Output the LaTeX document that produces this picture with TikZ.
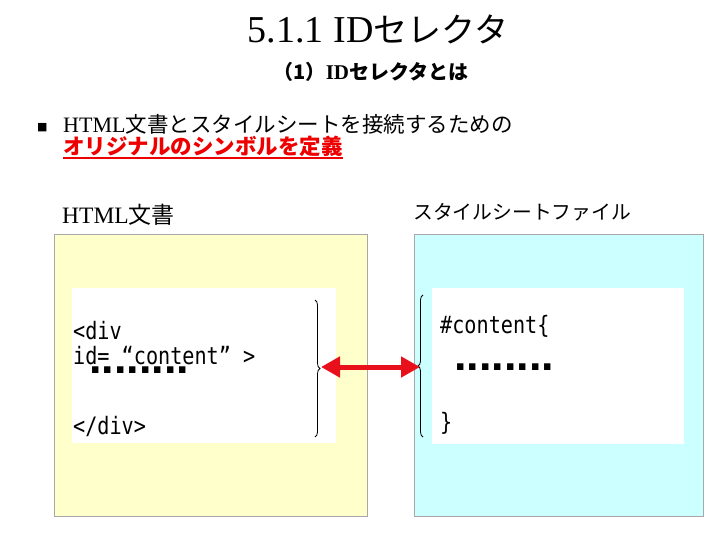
\documentclass[tikz,border=0pt]{standalone}
\usepackage{fontspec}
\setmainfont{Liberation Serif}
\newfontfamily\jp{Noto Sans CJK JP}
\newfontfamily\codefont[FakeStretch=0.84]{DejaVu Sans Mono}
\newfontfamily\dotfont{Liberation Sans}
\newfontfamily\symfont{DejaVu Sans}
\usetikzlibrary{arrows.meta,decorations.pathreplacing}
\definecolor{paleyellow}{HTML}{FFFFCC}
\definecolor{palecyan}{HTML}{CCFFFF}
\definecolor{boxedge}{HTML}{A8A8A8}
\definecolor{arrowred}{HTML}{E8101A}
\definecolor{textred}{HTML}{EE0000}
\begin{document}
\begin{tikzpicture}[x=1pt,y=-1pt,
  panel/.style={draw=boxedge,line width=1pt},
  inner/.style={fill=white,draw=none},
  lbl/.style={inner sep=0pt,anchor=base west},
  code/.style={lbl,font=\codefont\fontsize{24}{28}\selectfont},
  dotrow/.style={lbl,font=\dotfont\bfseries\fontsize{45}{48}\selectfont},
  bracket/.style={decorate,decoration={brace,amplitude=5pt},line width=0.8pt},
  link/.style={draw=arrowred,line width=5pt,{Triangle[length=19pt,width=20pt]}-{Triangle[length=19pt,width=20pt]}}
]
\useasboundingbox (0,0) rectangle (720,540);
\fill[white] (0,0) rectangle (720,540);

% titles
\node[inner sep=0pt,anchor=base] (title) at (378,43)
  {{\fontsize{38}{42}\selectfont 5.1.1 ID}{\jp\fontsize{34}{40}\selectfont セレクタ}};
\node[inner sep=0pt,anchor=base] (subtitle) at (371,80)
  {{\jp\bfseries\fontsize{20}{22}\selectfont （1）}{\bfseries\fontsize{21}{22}\selectfont ID}{\jp\bfseries\fontsize{20}{22}\selectfont セレクタとは}};

% bullet
\node[lbl] (bullet) at (37,131) {\symfont\fontsize{11}{12}\selectfont ■};
\node[lbl] (line1) at (63,133)
  {{\fontsize{22}{24}\selectfont HTML}{\jp\fontsize{21.5}{24}\selectfont 文書とスタイルシートを接続するための}};
\node[lbl,text=textred] (line2) at (63,155)
  {\jp\bfseries\fontsize{21.5}{24}\selectfont オリジナルのシンボルを定義};
\draw[textred,line width=1.6pt] ([yshift=-3pt]line2.base west) -- ([yshift=-3pt]line2.base east);

% panel labels
\node[lbl] (htmllbl) at (62,224)
  {{\fontsize{23.5}{26}\selectfont HTML}{\jp\fontsize{23}{26}\selectfont 文書}};
\node[lbl] (csslbl) at (413,219)
  {\jp\fontsize{19.8}{24}\selectfont スタイルシートファイル};

% panels
\draw[panel,fill=paleyellow] (54,234) rectangle (367,516);
\draw[panel,fill=palecyan] (414,234) rectangle (703,516);
\fill[inner] (72,288) rectangle (336,443);
\fill[inner] (432,288) rectangle (684,444);

% html code
\node[code] (divopen) at (73,339) {<div};
\node[code] (divid) at (73,364) {id= “content” >};
\node[dotrow] (ldots) at (89,373) {........};
\node[code] (divclose) at (73,434) {</div>};

% css code
\node[code] (cssopen) at (440,333) {\#content\{};
\node[dotrow] (rdots) at (454,370) {........};
\node[code] (cssclose) at (440,430) {\}};

% braces
\draw[bracket] (315,300) -- (315,437);
\draw[bracket] (423,437) -- (423,295);

% arrow
\coordinate (htmltip) at (321,367);
\coordinate (csstip) at (420,367);
\draw[link] (htmltip) -- (csstip);
\end{tikzpicture}
\end{document}
